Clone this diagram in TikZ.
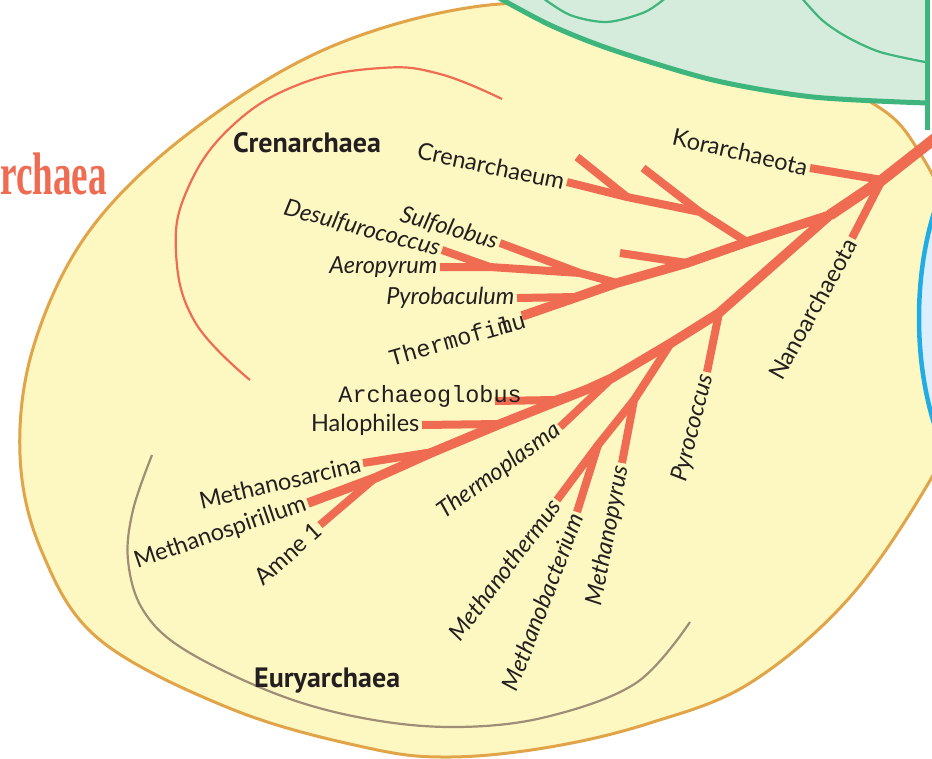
\documentclass[tikz,border=0pt]{standalone}
\usepackage{fontspec}
\setmainfont{Lato}
\newfontfamily\monofont{Liberation Mono}
\newfontfamily\groupfont{PT Sans}
\newfontfamily\titlefont[FakeStretch=0.62]{Liberation Serif}

\definecolor{archfill}{HTML}{FDF8C2}
\definecolor{archline}{HTML}{E2A448}
\definecolor{treered}{HTML}{EF6B51}
\definecolor{eurybrown}{HTML}{9E8E78}
\definecolor{bactfill}{HTML}{D5ECDC}
\definecolor{bactline}{HTML}{3DB57C}
\definecolor{eukfill}{HTML}{DDEFFD}
\definecolor{eukline}{HTML}{22ACE4}
\definecolor{labeltext}{HTML}{231F20}

\begin{document}
\begin{tikzpicture}[x=1pt, y=-1pt,
    trunk/.style={treered, line width=11pt, line join=round},
    branch/.style={treered, line width=9.5pt, line join=round},
    twig/.style={treered, line width=8pt, line join=round},
    bracket/.style={line width=2.2pt},
    lbl/.style={text=labeltext, inner sep=2.5pt, font=\fontsize{23.5}{27}\selectfont},
    ilbl/.style={lbl, font=\fontsize{23.5}{27}\selectfont\itshape},
    mlbl/.style={text=labeltext, inner sep=1pt, font=\monofont\fontsize{23.5}{26}\selectfont},
    group/.style={text=labeltext, inner sep=0pt, font=\groupfont\bfseries\fontsize{28}{30}\selectfont}]
    \useasboundingbox (0,0) rectangle (932,758);
    \fill[white] (0,0) rectangle (932,758);
    \clip (0,0) rectangle (932,758);

    % Archaea domain
    \draw[archline, line width=3pt, fill=archfill] plot[smooth cycle, tension=0.6] coordinates {
        (500,4) (640,22) (780,62) (877,106) (918,150) (950,220) (962,320) (952,420)
        (932,477) (850,597) (750,683) (650,723) (550,747) (450,757) (368,748)
        (234,710) (100,640) (42,552) (20,455) (34,345) (90,230) (193,130) (335,45)};

    % Group brackets
    \draw[bracket, treered] plot[smooth, tension=0.7] coordinates {(502,99) (440,74) (381,68)
        (300,84) (232,126) (188,188) (176,252) (195,322) (250,380)};
    \draw[bracket, eurybrown] plot[smooth, tension=0.6] coordinates {(152,455) (133,510) (128,560)
        (143,610) (185,650) (279,695) (368,719) (457,727) (546,717) (636,683) (690,622)};

    % Tree points
    \coordinate (root) at (938,136);
    \coordinate (jK) at (882,180);
    \coordinate (jCE) at (830,215);
    \coordinate (lKor) at (810,168);
    \coordinate (lNano) at (852,238);
    % Crenarchaea points
    \coordinate (jC1) at (747,242);
    \coordinate (jC2) at (687,263);
    \coordinate (jC3) at (617,283);
    \coordinate (jC4) at (577,297);
    \coordinate (lTfil) at (522,316);
    \coordinate (jA) at (700,212);
    \coordinate (jB) at (627,197);
    \coordinate (lCrm) at (567,182);
    \coordinate (lU1) at (577,157);
    \coordinate (lU2) at (643,168);
    \coordinate (lU3) at (620,253);
    \coordinate (jS) at (580,273);
    \coordinate (jD) at (490,267);
    \coordinate (lSulf) at (500,243);
    \coordinate (lAero) at (440,267);
    \coordinate (lDesu) at (442,250);
    \coordinate (lPyrb) at (517,298);
    % Euryarchaea points
    \coordinate (jE1) at (719,313);
    \coordinate (jE2) at (671,343);
    \coordinate (jE3) at (612,378);
    \coordinate (jE4) at (588,389);
    \coordinate (jE5) at (500,424);
    \coordinate (jE6) at (433,452);
    \coordinate (jE7) at (375,478);
    \coordinate (lMspi) at (308,503);
    \coordinate (lPyrc) at (707,372);
    \coordinate (jM1) at (634,400);
    \coordinate (jM2) at (598,445);
    \coordinate (lMpyr) at (622,463);
    \coordinate (lMthe) at (557,500);
    \coordinate (lMbac) at (577,512);
    \coordinate (lTpla) at (560,427);
    \coordinate (jAr) at (555,400);
    \coordinate (lArch) at (495,401);
    \coordinate (lHalo) at (422,425);
    \coordinate (lMsar) at (363,463);
    \coordinate (lAmne) at (320,525);

    % Trunk
    \draw[trunk] (root) -- (jK) -- (jCE);
    \draw[twig] (lKor) -- (jK);
    \draw[twig] (lNano) -- (jK);

    % Crenarchaea branches
    \draw[branch] (jCE) -- (jC1) -- (jC2) -- (jC3) -- (jC4) -- (lTfil);
    \draw[twig] (lCrm) -- (jB) -- (jA) -- (jC1);
    \draw[twig] (lU1) -- (jB);
    \draw[twig] (lU2) -- (jA);
    \draw[twig] (lU3) -- (jC2);
    \draw[twig] (lSulf) -- (jS) -- (jC3);
    \draw[twig] (lAero) -- (jD) -- (jS);
    \draw[twig] (lDesu) -- (jD);
    \draw[twig] (lPyrb) -- (jC4);

    % Euryarchaea branches
    \draw[branch] (jCE) -- (jE1) -- (jE2) -- (jE3) -- (jE4) -- (jE5) -- (jE6) -- (jE7) -- (lMspi);
    \draw[twig] (lPyrc) -- (jE1);
    \draw[twig] (lMpyr) -- (jM1) -- (jE2);
    \draw[twig] (lMthe) -- (jM2) -- (jM1);
    \draw[twig] (lMbac) -- (jM2);
    \draw[twig] (lTpla) -- (jE3);
    \draw[twig] (lArch) -- (jAr) -- (jE4);
    \draw[twig] (lHalo) -- (jE5);
    \draw[twig] (lMsar) -- (jE6);
    \draw[twig] (lAmne) -- (jE7);

    % Leaf labels
    \node[lbl, anchor=east, rotate=-13] (tKor) at (lKor) {Korarchaeota};
    \node[lbl, anchor=east, rotate=61] (tNano) at (lNano) {Nanoarchaeota};
    \node[lbl, anchor=east, rotate=-12] (tCrm) at (lCrm) {Crenarchaeum};
    \node[ilbl, anchor=east, rotate=-16] (tSulf) at (lSulf) {Sulfolobus};
    \node[ilbl, anchor=east, rotate=-15] (tDesu) at (lDesu) {Desulfurococcus};
    \node[ilbl, anchor=east] (tAero) at (lAero) {Aeropyrum};
    \node[ilbl, anchor=east] (tPyrb) at (lPyrb) {Pyrobaculum};
    \node[mlbl, anchor=east, rotate=16] (tTfil) at (526,319) {Thermofi\rlap{m}lu};
    \node[mlbl, anchor=east] (tArch) at (523,396) {Archaeoglobus};
    \node[lbl, anchor=east] (tHalo) at (lHalo) {Halophiles};
    \node[lbl, anchor=east, rotate=13] (tMsar) at (lMsar) {Methanosarcina};
    \node[lbl, anchor=east, rotate=19] (tMspi) at (lMspi) {Methanospirillum};
    \node[lbl, anchor=east, rotate=42] (tAmne) at (lAmne) {Amne 1};
    \node[ilbl, anchor=east, rotate=36] (tTpla) at (lTpla) {Thermoplasma};
    \node[ilbl, anchor=east, rotate=53] (tMthe) at (lMthe) {Methanothermus};
    \node[ilbl, anchor=east, rotate=69] (tMbac) at (lMbac) {Methanobacterium};
    \node[ilbl, anchor=east, rotate=79] (tMpyr) at (lMpyr) {Methanopyrus};
    \node[ilbl, anchor=east, rotate=76] (tPyrc) at (lPyrc) {Pyrococcus};

    % Group labels
    \node[group, anchor=base west] (cren) at (233,152) {Crenarchaea};
    \node[group, anchor=base west] (eury) at (254,687) {Euryarchaea};
    \node[text=treered, inner sep=0pt, anchor=base west,
        font=\titlefont\bfseries\fontsize{60}{62}\selectfont] (arch) at (0,194) {rchaea};

    % Bacteria domain (top)
    \fill[bactfill] plot[smooth] coordinates {(492,-6) (550,25) (613,50) (713,80) (813,97) (927,103)}
        -- (927,-10) -- cycle;
    \draw[bactline, line width=5pt] plot[smooth] coordinates {(492,-6) (550,25) (613,50) (713,80) (813,97) (927,103)};
    \draw[bactline, line width=5pt] (927,-10) -- (927,130);
    \draw[bactline, bracket] plot[smooth] coordinates {(540,-4) (570,15) (607,22) (645,12) (668,-4)};
    \draw[bactline, bracket] plot[smooth] coordinates {(800,-4) (822,20) (847,37) (880,52) (925,62)};

    % Eukarya domain (right)
    \draw[eukline, line width=4.5pt, fill=eukfill] (1019,318) ellipse [x radius=100, y radius=200];
\end{tikzpicture}
\end{document}
